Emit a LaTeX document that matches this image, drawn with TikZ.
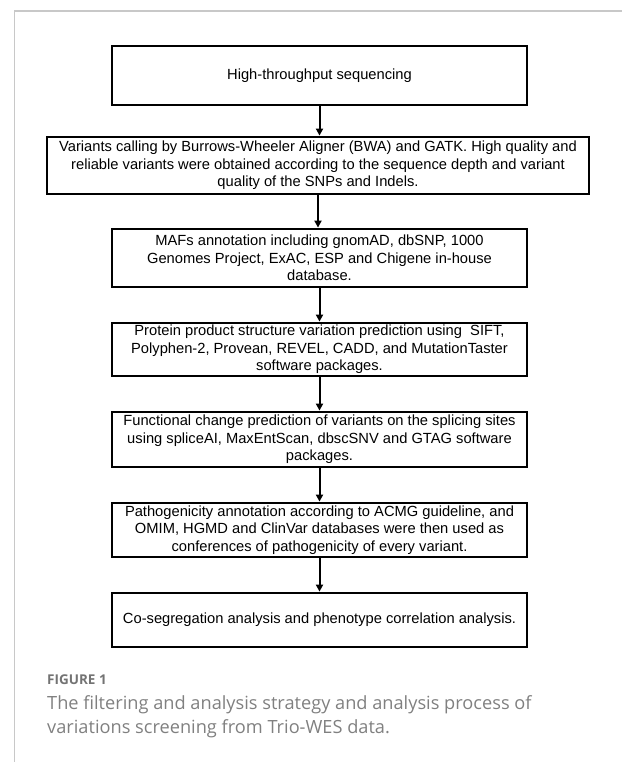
\documentclass[tikz,border=0pt]{standalone}
\usepackage{fontspec}
\setmainfont{Liberation Sans}
\newfontfamily\capfont{Open Sans}
\usetikzlibrary{arrows.meta, positioning}
\tikzset{>={Triangle[length=7pt,width=7pt]}}
\definecolor{framegray}{HTML}{C8C8C8}
\definecolor{capgray}{HTML}{808080}

\begin{document}
\begin{tikzpicture}[x=1pt, y=-1pt,
    stepbox/.style={draw, line width=2.8pt, align=center, inner sep=0pt,
        minimum width=415pt, font=\fontsize{14.7}{17.6}\selectfont},
    flow/.style={->, line width=2pt}]
        \useasboundingbox (0,0) rectangle (622,762);
        \draw[framegray, line width=1.5pt] (14.7,762) -- (14.7,11) -- (622,11);

        \node[stepbox, minimum height=59pt] (hts) at (319.5,75.5) {High-throughput sequencing};
        \node[stepbox, minimum height=57pt, minimum width=542pt] (call) at (318,165.5)
            {Variants calling by Burrows-Wheeler Aligner (BWA) and GATK. High quality and\\
             reliable variants were obtained according to the sequence depth and variant\\
             quality of the SNPs and Indels.};
        \node[stepbox, minimum height=58pt] (maf) at (319.5,258)
            {MAFs annotation including gnomAD, dbSNP, 1000\\
             Genomes Project, ExAC, ESP and Chigene in-house\\
             database.};
        \node[stepbox, minimum height=53pt] (prot) at (319.5,349.5)
            {Protein product structure variation prediction using\ \ SIFT,\\
             Polyphen-2, Provean, REVEL, CADD, and MutationTaster\\
             software packages.};
        \node[stepbox, minimum height=55pt] (splice) at (319.5,439.5)
            {Functional change prediction of variants on the splicing sites\\
             using spliceAI, MaxEntScan, dbscSNV and GTAG software\\
             packages.};
        \node[stepbox, minimum height=54pt] (patho) at (319.5,530)
            {Pathogenicity annotation according to ACMG guideline, and\\
             OMIM, HGMD and ClinVar databases were then used as\\
             conferences of pathogenicity of every variant.};
        \node[stepbox, minimum height=54pt] (coseg) at (319.5,620)
            {Co-segregation analysis and phenotype correlation analysis.};

        \draw[flow] (hts.south) -- (hts.south |- call.north);
        \draw[flow] (call.south) -- (call.south |- maf.north);
        \draw[flow] (maf.south) -- (prot.north);
        \draw[flow] (prot.south) -- (splice.north);
        \draw[flow] (splice.south) -- (patho.north);
        \draw[flow] (patho.south) -- (coseg.north);

        \node[anchor=base west, inner sep=0pt, text=capgray!90!black, font=\capfont\bfseries\fontsize{13.5}{15}\selectfont]
            (fig) at (47,684) {FIGURE 1};
        \node[anchor=base west, inner sep=0pt, text=capgray, font=\capfont\fontsize{18.2}{24}\selectfont]
            (cap1) at (47,709) {The filtering and analysis strategy and analysis process of};
        \node[anchor=base west, inner sep=0pt, text=capgray, font=\capfont\fontsize{18.2}{24}\selectfont]
            (cap2) at (47,733) {variations screening from Trio-WES data.};
\end{tikzpicture}
\end{document}
